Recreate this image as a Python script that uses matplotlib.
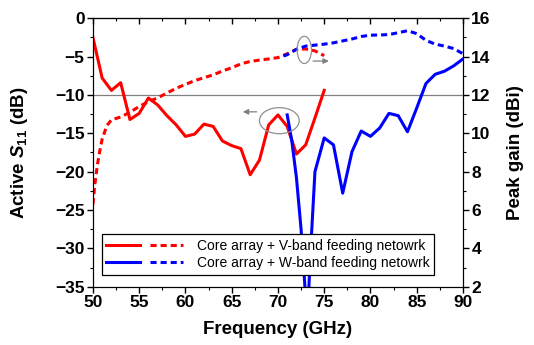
import numpy as np
import matplotlib
matplotlib.use('Agg')
import matplotlib.pyplot as plt
from matplotlib.patches import Ellipse
from matplotlib.legend_handler import HandlerTuple
from matplotlib.lines import Line2D

plt.rcParams['font.family'] = ['Liberation Sans', 'DejaVu Sans']
plt.rcParams['font.weight'] = 'bold'
plt.rcParams['mathtext.fontset'] = 'custom'
plt.rcParams['mathtext.it'] = 'Liberation Sans:italic:bold'
plt.rcParams['mathtext.bf'] = 'Liberation Sans:bold'
plt.rcParams['mathtext.rm'] = 'Liberation Sans:bold'

# V-band feeding network: active S11 and peak gain
f_v_s11 = [50, 51, 52, 53, 54, 55, 56, 57, 58, 59, 60, 61, 62, 63, 64, 65,
           66, 67, 68, 69, 70, 71, 72, 73, 74, 75]
s11_v = [-2.5, -7.8, -9.4, -8.4, -13.2, -12.4, -10.4, -11.3, -12.7, -13.9,
         -15.4, -15.1, -13.8, -14.1, -16.0, -16.6, -17.0, -20.4, -18.5,
         -13.9, -12.6, -14.1, -17.7, -16.5, -13.0, -9.4]
f_v_gain = [50, 50.25, 50.5, 50.75, 51, 51.5, 52, 53, 54, 55, 56, 57, 58, 59,
            60, 61, 62, 63, 64, 65, 66, 67, 68, 69, 70, 71, 72, 73, 74, 75]
gain_v = [6.3, 7.5, 8.4, 9.1, 9.7, 10.4, 10.7, 10.85, 11.1, 11.4, 11.65,
          11.85, 12.1, 12.35, 12.55, 12.75, 12.9, 13.05, 13.25, 13.42, 13.62,
          13.75, 13.82, 13.88, 13.95, 14.15, 14.38, 14.4, 14.3, 14.05]

# W-band feeding network
f_w_s11 = [71, 71.5, 72, 72.5, 73, 73.25, 73.5, 74, 75, 76, 77, 78, 79, 80,
           81, 82, 83, 84, 85, 86, 87, 88, 89, 90]
s11_w = [-12.6, -16.0, -20.8, -27.5, -36.5, -37.5, -31.0, -20.0, -15.6,
         -16.5, -22.8, -17.4, -14.7, -15.4, -14.3, -12.4, -12.7, -14.8,
         -11.7, -8.5, -7.3, -6.9, -6.2, -5.3]
f_w_gain = [70.6, 71, 72, 73, 74, 75, 76, 77, 78, 79, 80, 81, 82, 83, 84, 85,
            86, 87, 88, 89, 90]
gain_w = [14.03, 14.1, 14.38, 14.55, 14.6, 14.65, 14.72, 14.82, 14.92, 15.05,
          15.12, 15.13, 15.15, 15.25, 15.35, 15.2, 14.85, 14.65, 14.55, 14.42,
          14.15]

labels = ['Core array + V-band feeding netowrk',
          'Core array + W-band feeding netowrk']

fig = plt.figure(figsize=(5.34, 3.45), dpi=100)
ax = fig.add_axes([0.174, 0.169, 0.693, 0.778])
ax2 = ax.twinx()

lw = 2.2
dash = (2.0, 1.3)

ax.axhline(-10, color='#808080', lw=0.9, zorder=1)

ax.plot(f_v_s11, s11_v, color='red', lw=lw, zorder=3)
ax.plot(f_w_s11, s11_w, color='blue', lw=lw, zorder=3)
ax2.plot(f_v_gain, gain_v, color='red', lw=lw, dashes=dash)
ax2.plot(f_w_gain, gain_w, color='blue', lw=lw, dashes=dash)

ax.set_xlim(50, 90)
ax.set_ylim(-35, 0)
ax2.set_ylim(2, 16)
ax.set_xticks(np.arange(50, 91, 5))
ax.set_xticks(np.arange(50, 91, 2.5), minor=True)
ax.set_yticks(np.arange(-35, 1, 5))
ax.set_yticks(np.arange(-35, 1, 2.5), minor=True)
ax2.set_yticks(np.arange(2, 17, 2))
ax2.set_yticks(np.arange(2, 17, 1), minor=True)

ax.tick_params(which='major', direction='out', length=4, width=1, labelsize=12.5, pad=2)
ax.tick_params(which='minor', direction='out', length=2, width=0.8)
ax2.tick_params(which='major', direction='out', length=4, width=1, labelsize=12.5, pad=2)
ax2.tick_params(which='minor', direction='out', length=2, width=0.8)

top = ax.secondary_xaxis('top')
top.set_xticks(np.arange(50, 91, 5))
top.set_xticks(np.arange(50, 91, 2.5), minor=True)
top.tick_params(which='major', direction='in', length=4, width=1, labeltop=False)
top.tick_params(which='minor', direction='in', length=2, width=0.8)

ax.set_xlabel('Frequency (GHz)', fontsize=13.5, fontweight='bold', labelpad=8)
ax.set_ylabel(r'Active $\mathit{S}_{\mathbf{11}}$ (dB)', fontsize=13.5,
              fontweight='bold', labelpad=18)
ax2.set_ylabel('Peak gain (dBi)', fontsize=13.5, fontweight='bold', labelpad=12)

# markers pointing each curve pair to its own axis
ax.add_patch(Ellipse((70.15, -13.35), 4.3, 3.4, fill=False,
                     edgecolor='#909090', lw=0.9, zorder=4))
ax.annotate('', xy=(65.9, -12.2), xytext=(68.0, -12.2),
            arrowprops=dict(arrowstyle='-|>', color='#808080', lw=0.9,
                            mutation_scale=8))
ax2.add_patch(Ellipse((72.85, 14.35), 1.55, 1.42, fill=False,
                      edgecolor='#909090', lw=0.9, zorder=4))
ax2.annotate('', xy=(75.8, 13.77), xytext=(73.5, 13.77),
             arrowprops=dict(arrowstyle='-|>', color='#808080', lw=0.9,
                             mutation_scale=8))

handles = []
for c in ['red', 'blue']:
    solid = Line2D([], [], color=c, lw=lw)
    dashed = Line2D([], [], color=c, lw=lw, dashes=dash)
    handles.append((solid, dashed))
leg = ax2.legend(handles, labels, handler_map={tuple: HandlerTuple(ndivide=None, pad=0.7)},
                 loc='lower left', bbox_to_anchor=(0.0235, 0.0436),
                 borderaxespad=0, handlelength=5.5, handletextpad=1.0,
                 borderpad=0.35, labelspacing=0.25, frameon=True,
                 fancybox=False, framealpha=1,
                 prop={'weight': 'normal', 'size': 10})
leg.get_frame().set_edgecolor('black')
leg.get_frame().set_linewidth(0.9)

fig.savefig('out.png', dpi=100)
